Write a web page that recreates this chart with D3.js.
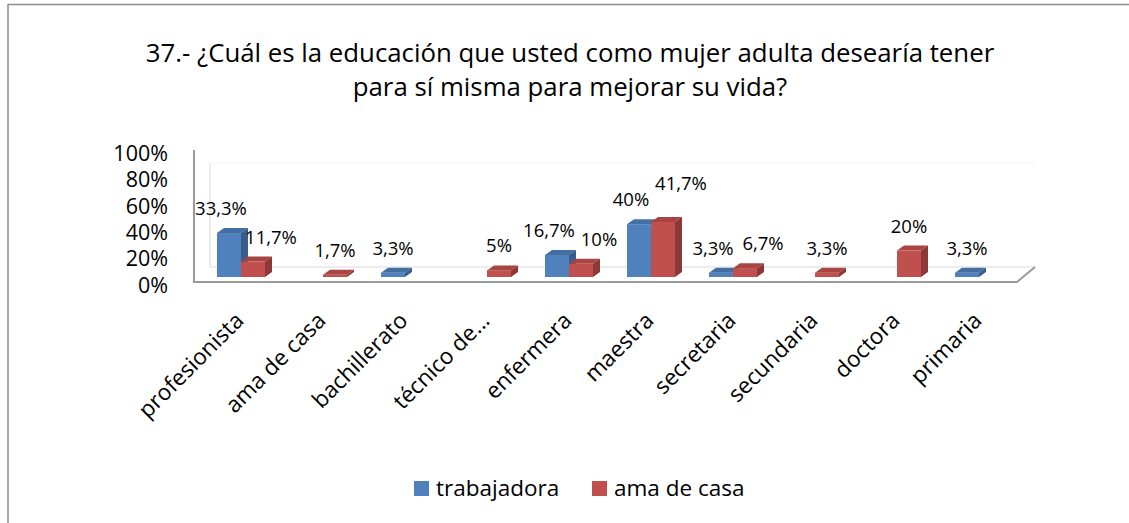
<!DOCTYPE html>
<html>
<head>
<meta charset="utf-8">
<script src="https://cdn.jsdelivr.net/npm/d3@7"></script>
<style>
  body { margin: 0; background: #fff; }
  svg text { font-family: "Open Sans", Lato, sans-serif; fill: #000; }
</style>
</head>
<body>
<svg id="chart" width="1129" height="523"></svg>
<script>
const categories = ["profesionista", "ama de casa", "bachillerato", "técnico de...", "enfermera",
    "maestra", "secretaria", "secundaria", "doctora", "primaria"]
const seriesNames = ["trabajadora", "ama de casa"]
const trabajadora = [0.333, 0, 0.033, 0, 0.167, 0.40, 0.033, 0, 0, 0.033]
const amaDeCasa = [0.117, 0.017, 0, 0.05, 0.10, 0.417, 0.067, 0.033, 0.20, 0]
const yTicks = [0, 0.2, 0.4, 0.6, 0.8, 1]
const titleLines = ["37.- ¿Cuál es la educación que usted como mujer adulta desearía tener",
    "para sí misma para mejorar su vida?"]

const colors = {
    trabajadora: {front: "#4f81bd", top: "#436fa3", side: "#385d8a"},
    "ama de casa": {front: "#c0504d", top: "#a84541", side: "#8c3836"}
}

const svg = d3.select("#chart")
const depth = {dx: 7, dy: -5}
const base = 277

// outer frame (only top and left edges are visible)
svg.append("path")
    .attr("d", "M8,523V4.5H1129")
    .attr("fill", "none").attr("stroke", "#8c8c8c").attr("stroke-width", 1.5)

// title
svg.append("g").selectAll("text")
    .data(titleLines)
    .enter()
    .append("text")
    .attr("x", 570)
    .attr("y", (d, i) => 62 + i * 34)
    .attr("text-anchor", "middle")
    .attr("font-size", 25.8)
    .text(d => d)

const x0 = d3.scaleBand().domain(categories).range([200, 1020])
const x1 = d3.scaleBand().domain(seriesNames).range([0, 48])
const y = d3.scaleLinear().domain([0, 1]).range([base, 145])
const yAxisScale = d3.scaleLinear().domain([0, 1]).range([285, 153])
const fmt = d3.formatLocale({decimal: ",", thousands: ".", grouping: [3], currency: ["", "€"]}).format(".1~%")

// 3D floor and walls
const floor = svg.append("g")
floor.append("path")
    .attr("d", "M210,163H1035")
    .attr("stroke", "#f3f3f3").attr("fill", "none")
floor.append("path")
    .attr("d", "M210,163V267H1035")
    .attr("stroke", "#d9d9d9").attr("fill", "none")
floor.append("path")
    .attr("d", "M194,150V282H1017L1035,267")
    .attr("stroke", "#9a9a9a").attr("stroke-width", 2).attr("fill", "none")

// y axis labels
svg.append("g").selectAll("text")
    .data(yTicks)
    .enter()
    .append("text")
    .attr("x", 168)
    .attr("y", d => yAxisScale(d))
    .attr("dy", "0.36em")
    .attr("text-anchor", "end")
    .attr("font-size", 21.5)
    .text(d => d3.format(".0%")(d))

// bars
const rows = []
categories.forEach((c, i) => {
    [trabajadora[i], amaDeCasa[i]].forEach((v, s) => {
        if (v > 0) rows.push({cat: c, series: seriesNames[s], value: v, pair: trabajadora[i] > 0 && amaDeCasa[i] > 0})
    })
})

const bars = svg.append("g").selectAll("g")
    .data(rows)
    .enter()
    .append("g")

function bx(d) { return x0(d.cat) + x0.bandwidth() / 2 - 24 + x1(d.series) }

bars.append("rect")
    .attr("x", d => bx(d))
    .attr("y", d => y(d.value))
    .attr("width", x1.bandwidth())
    .attr("height", d => base - y(d.value))
    .attr("fill", d => colors[d.series].front)

bars.append("path")
    .attr("d", d => {
        const xl = bx(d), xr = xl + x1.bandwidth(), yt = y(d.value)
        return "M" + xl + "," + yt + "L" + (xl + depth.dx) + "," + (yt + depth.dy) +
            "L" + (xr + depth.dx) + "," + (yt + depth.dy) + "L" + xr + "," + yt + "Z"
    })
    .attr("fill", d => colors[d.series].top)

bars.append("path")
    .attr("d", d => {
        const xr = bx(d) + x1.bandwidth(), yt = y(d.value)
        return "M" + xr + "," + yt + "L" + (xr + depth.dx) + "," + (yt + depth.dy) +
            "L" + (xr + depth.dx) + "," + (base + depth.dy) + "L" + xr + "," + base + "Z"
    })
    .attr("fill", d => colors[d.series].side)

// value labels, nudged apart when a category has both bars
rows.forEach(d => {
    let shift = 0
    if (d.pair) shift = d.series === "trabajadora" ? -8 : 18
    d.lx = bx(d) + x1.bandwidth() / 2 + shift
    d.ly = y(d.value) + depth.dy - 13
})
rows.forEach(d => {
    if (d.pair && d.series === "ama de casa") {
        const other = rows.find(r => r.cat === d.cat && r.series === "trabajadora")
        if (Math.abs(other.ly - d.ly) < 12 && Math.abs(other.value - d.value) < 0.03) d.ly = other.ly - 16
    }
})

svg.append("g").selectAll("text")
    .data(rows)
    .enter()
    .append("text")
    .attr("x", d => d.lx)
    .attr("y", d => d.ly)
    .attr("text-anchor", "middle")
    .attr("font-size", 18.5)
    .text(d => fmt(d.value))

// category labels
svg.append("g").selectAll("text")
    .data(categories)
    .enter()
    .append("text")
    .attr("transform", d => "translate(" + (x0(d) + x0.bandwidth() / 2 + 4) + ",322) rotate(-45)")
    .attr("text-anchor", "end")
    .attr("font-size", 22.5)
    .text(d => d)

// legend
const legend = svg.append("g").attr("transform", "translate(414,481)")
const legendX = [0, 178]
const li = legend.selectAll("g")
    .data(seriesNames)
    .enter()
    .append("g")
    .attr("transform", (d, i) => "translate(" + legendX[i] + ",0)")
li.append("rect")
    .attr("width", 15).attr("height", 15)
    .attr("fill", d => colors[d].front)
li.append("text")
    .attr("x", 22).attr("y", 15)
    .attr("font-size", 22.5)
    .text(d => d)
</script>
</body>
</html>
